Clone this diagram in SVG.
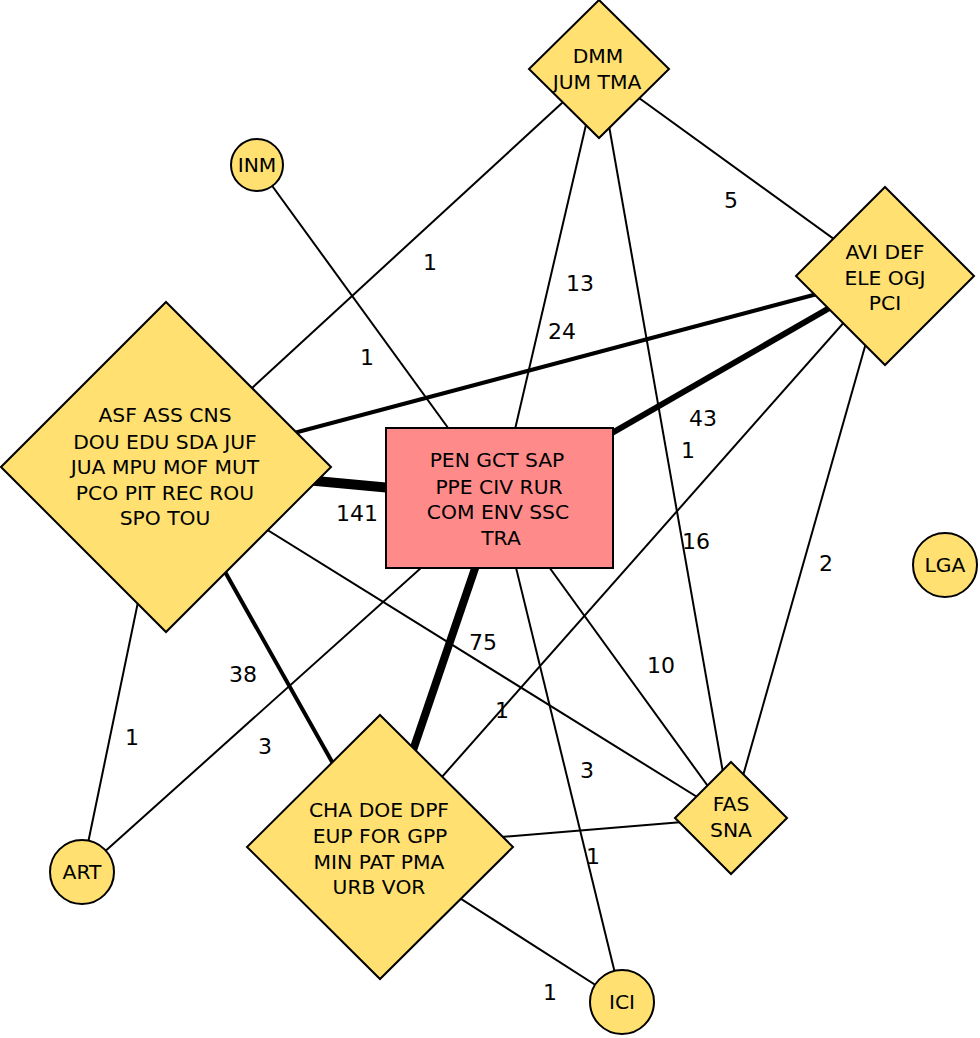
<svg xmlns="http://www.w3.org/2000/svg" width="980" height="1038" viewBox="0 0 980 1038">
<style>
.n{fill:#ffe070;stroke:#000;stroke-width:2}
.r{fill:#ff8a8a;stroke:#000;stroke-width:2}
.t{font-family:"DejaVu Sans",Verdana,sans-serif;font-size:20.3px;fill:#000;text-anchor:middle}
.l{font-family:"DejaVu Sans",Verdana,sans-serif;font-size:22px;fill:#000;text-anchor:middle}
#edges line{stroke:#000;stroke-width:2;fill:none}
</style>
<rect width="980" height="1038" fill="#fff"/>
<g id="edges">
<line x1="166" y1="467" x2="499" y2="498" style="stroke-width:10"/>
<line x1="885" y1="276" x2="499" y2="498" style="stroke-width:6"/>
<line x1="499" y1="498" x2="380" y2="847" style="stroke-width:8"/>
<line x1="166" y1="467" x2="380" y2="847" style="stroke-width:4"/>
<line x1="166" y1="467" x2="885" y2="276" style="stroke-width:4"/>
<line x1="599" y1="69" x2="499" y2="498"/>
<line x1="599" y1="69" x2="885" y2="276"/>
<line x1="599" y1="69" x2="166" y2="467"/>
<line x1="257" y1="165" x2="499" y2="498"/>
<line x1="885" y1="276" x2="380" y2="847"/>
<line x1="599" y1="69" x2="731" y2="818"/>
<line x1="885" y1="276" x2="731" y2="818"/>
<line x1="499" y1="498" x2="731" y2="818"/>
<line x1="166" y1="467" x2="731" y2="818"/>
<line x1="499" y1="498" x2="82" y2="872"/>
<line x1="166" y1="467" x2="82" y2="872"/>
<line x1="499" y1="498" x2="622" y2="1002"/>
<line x1="380" y1="847" x2="622" y2="1002"/>
<line x1="380" y1="847" x2="731" y2="818"/>
</g>
<g id="edge-labels">
<text class="l" x="357" y="521">141</text>
<text class="l" x="703" y="426">43</text>
<text class="l" x="483" y="650">75</text>
<text class="l" x="243" y="682">38</text>
<text class="l" x="562" y="339">24</text>
<text class="l" x="580" y="291">13</text>
<text class="l" x="731" y="208">5</text>
<text class="l" x="430" y="270">1</text>
<text class="l" x="367" y="365">1</text>
<text class="l" x="688" y="458">1</text>
<text class="l" x="696" y="549">16</text>
<text class="l" x="826" y="571">2</text>
<text class="l" x="661" y="673">10</text>
<text class="l" x="502" y="718">1</text>
<text class="l" x="265" y="754">3</text>
<text class="l" x="132" y="745">1</text>
<text class="l" x="587" y="778">3</text>
<text class="l" x="593" y="864">1</text>
<text class="l" x="550" y="1000">1</text>
</g>
<g id="node-dmm">
<polygon class="n" points="599,0 669,69 599,138 529,69"/>
<text class="t" x="598" y="63">DMM</text>
<text class="t" x="597" y="89">JUM TMA</text>
</g>
<g id="node-avi">
<polygon class="n" points="885,187 974,276 885,365 796,276"/>
<text class="t" x="885" y="259">AVI DEF</text>
<text class="t" x="885" y="285">ELE OGJ</text>
<text class="t" x="885" y="310">PCI</text>
</g>
<g id="node-big">
<polygon class="n" points="166,302 331,467 166,632 1,467"/>
<text class="t" x="165" y="422">ASF ASS CNS</text>
<text class="t" x="165" y="449">DOU EDU SDA JUF</text>
<text class="t" x="165" y="474">JUA MPU MOF MUT</text>
<text class="t" x="165" y="500">PCO PIT REC ROU</text>
<text class="t" x="165" y="525">SPO TOU</text>
</g>
<g id="node-center">
<rect class="r" x="386" y="428" width="227" height="140"/>
<text class="t" x="497" y="467">PEN GCT SAP</text>
<text class="t" x="499" y="494">PPE CIV RUR</text>
<text class="t" x="498" y="519">COM ENV SSC</text>
<text class="t" x="501" y="545">TRA</text>
</g>
<g id="node-bottom">
<polygon class="n" points="380,715 513,847 380,979 247,847"/>
<text class="t" x="379" y="817">CHA DOE DPF</text>
<text class="t" x="380" y="843">EUP FOR GPP</text>
<text class="t" x="379" y="869">MIN PAT PMA</text>
<text class="t" x="379" y="894">URB VOR</text>
</g>
<g id="node-fas">
<polygon class="n" points="731,762 787,818 731,874 675,818"/>
<text class="t" x="731" y="811">FAS</text>
<text class="t" x="731" y="837">SNA</text>
</g>
<g id="node-inm">
<circle class="n" cx="257" cy="165" r="26"/>
<text class="t" x="257" y="172">INM</text>
</g>
<g id="node-art">
<circle class="n" cx="82" cy="872" r="32"/>
<text class="t" x="82" y="879">ART</text>
</g>
<g id="node-lga">
<circle class="n" cx="945" cy="565" r="32"/>
<text class="t" x="945" y="572">LGA</text>
</g>
<g id="node-ici">
<circle class="n" cx="622" cy="1002" r="32"/>
<text class="t" x="622" y="1009">ICI</text>
</g>
</svg>
